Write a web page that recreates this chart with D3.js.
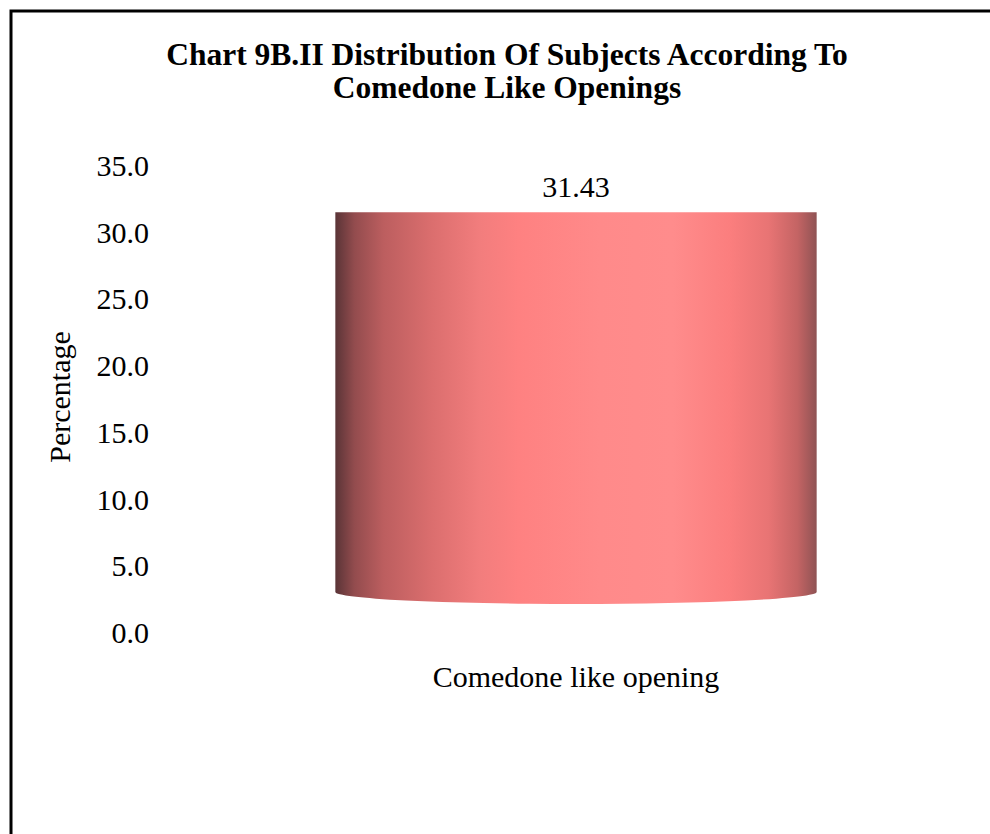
<!DOCTYPE html>
<html>
<head>
<meta charset="utf-8">
<script src="https://cdn.jsdelivr.net/npm/d3@7"></script>
<style>
  html, body { margin: 0; padding: 0; background: #fff; }
  svg text { font-family: "Liberation Serif", "Times New Roman", serif; fill: #000; }
</style>
</head>
<body>
<div id="chart"></div>
<script>
var titleLines = ['Chart 9B.II Distribution Of Subjects According To', 'Comedone Like Openings']
var categories = ['Comedone like opening']
var values = [31.43]
var yTicks = [0, 5, 10, 15, 20, 25, 30, 35]
var yLabel = 'Percentage'

;(function (d3) {
  var width = 990
  var height = 834

  var svg = d3.select('#chart')
    .append('svg')
    .attr('width', width)
    .attr('height', height)

  // frame (only top + left edges fall inside the picture)
  svg.append('path')
    .attr('d', 'M11,' + (height + 5) + 'V11H' + (width + 5))
    .attr('fill', 'none')
    .attr('stroke', '#000')
    .attr('stroke-width', 3)

  // title
  var title = svg.append('text')
    .attr('text-anchor', 'middle')
    .attr('font-weight', 'bold')
    .attr('font-size', 31.5)
  title.selectAll('tspan')
    .data(titleLines)
    .enter()
    .append('tspan')
    .attr('x', 507)
    .attr('y', function (d, i) { return 65 + i * 33 })
    .text(function (d) { return d })

  // tick labels sit on the back wall, the bar on the front floor
  var yAxisScale = d3.scaleLinear().domain([0, 35]).range([632, 165])
  var yBar = d3.scaleLinear().domain([0, 35]).range([592, 169])
  var x = d3.scaleBand()
    .domain(categories)
    .range([215, 937])
    .paddingInner(0.2)
    .paddingOuter(0.2)

  var yAxis = d3.axisLeft(yAxisScale)
    .tickValues(yTicks)
    .tickSize(0)
    .tickPadding(0)
    .tickFormat(d3.format('.1f'))

  var gy = svg.append('g')
    .attr('transform', 'translate(149,0)')
    .call(yAxis)
  gy.select('.domain').remove()
  gy.selectAll('.tick text')
    .attr('font-family', '"Liberation Serif", "Times New Roman", serif')
    .attr('font-size', 30)
    .attr('dy', '0.35em')

  svg.append('text')
    .attr('transform', 'translate(70,397) rotate(-90)')
    .attr('text-anchor', 'middle')
    .attr('font-size', 30)
    .text(yLabel)

  // cylinder shading
  var defs = svg.append('defs')
  var grad = defs.append('linearGradient')
    .attr('id', 'cyl')
    .attr('x1', 0).attr('x2', 1).attr('y1', 0).attr('y2', 0)
  var stops = [
    [0, '#5a3437'], [0.04, '#934c4e'], [0.1, '#bc5e5f'], [0.2, '#db6e6e'],
    [0.3, '#f27d7d'], [0.38, '#fe8181'], [0.55, '#ff8a8a'], [0.7, '#ff8c8c'],
    [0.82, '#fb7e7e'], [0.9, '#e87474'], [0.96, '#c46464'], [1, '#8f5354']
  ]
  grad.selectAll('stop')
    .data(stops)
    .enter()
    .append('stop')
    .attr('offset', function (d) { return d[0] })
    .attr('stop-color', function (d) { return d[1] })

  var ry = 12
  svg.append('g')
    .selectAll('.bar')
    .data(values)
    .enter()
    .append('path')
    .attr('class', 'bar')
    .attr('fill', 'url(#cyl)')
    .attr('d', function (d, i) {
      var x0 = x(categories[i])
      var x1 = x0 + x.bandwidth()
      var rx = x.bandwidth() / 2
      var top = yBar(d)
      var bot = yBar(0)
      return 'M' + x0 + ',' + top + 'H' + x1 + 'V' + bot +
        'A' + rx + ',' + ry + ' 0 0 1 ' + x0 + ',' + bot + 'Z'
    })

  svg.append('g')
    .selectAll('.value')
    .data(values)
    .enter()
    .append('text')
    .attr('text-anchor', 'middle')
    .attr('font-size', 30)
    .attr('x', function (d, i) { return x(categories[i]) + x.bandwidth() / 2 })
    .attr('y', function (d) { return yBar(d) - 15 })
    .text(function (d) { return d3.format('.2f')(d) })

  svg.append('g')
    .selectAll('.cat')
    .data(categories)
    .enter()
    .append('text')
    .attr('text-anchor', 'middle')
    .attr('font-size', 30)
    .attr('x', function (d) { return x(d) + x.bandwidth() / 2 })
    .attr('y', 687)
    .text(function (d) { return d })
})(d3)
</script>
</body>
</html>
